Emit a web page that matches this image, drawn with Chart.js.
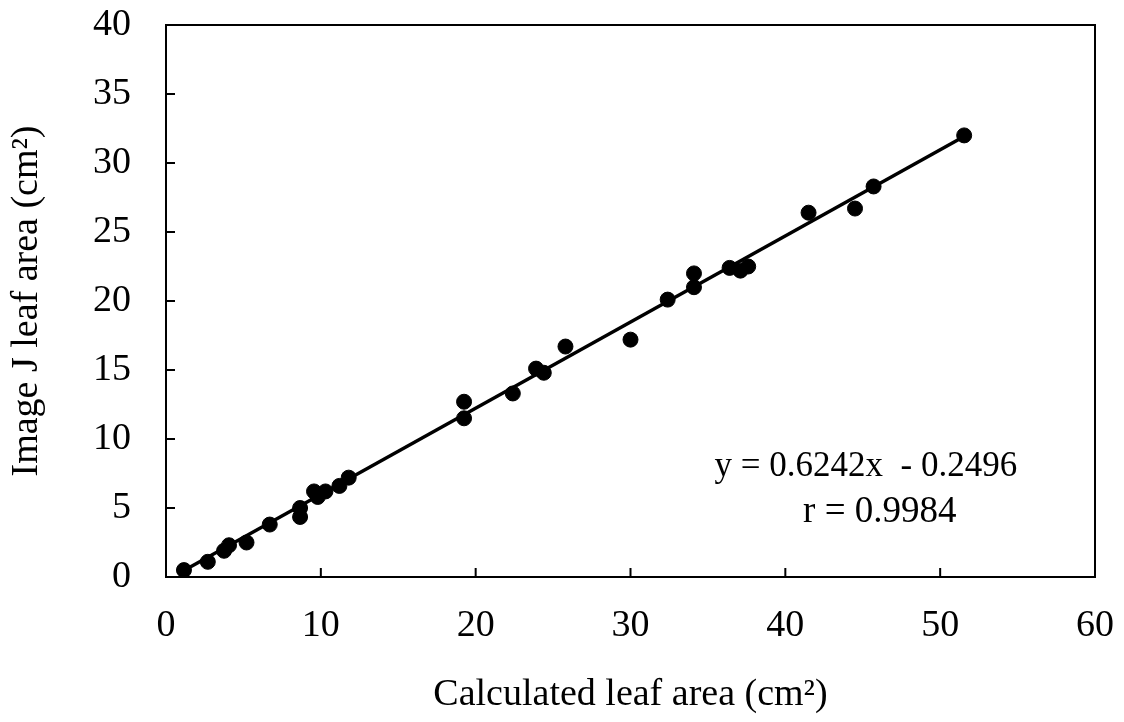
<!DOCTYPE html>
<html>
<head>
<meta charset="utf-8">
<script src="https://cdn.jsdelivr.net/npm/chart.js@4"></script>
<style>
  html, body { margin: 0; padding: 0; background: #fff; }
  #wrap { width: 1124px; height: 722px; }
</style>
</head>
<body>
<div id="wrap"><canvas id="chart" width="1124" height="722"></canvas></div>
<script>
// ── Data ──
const calcArea = [1.16, 2.7, 3.75, 4.07, 5.2, 6.7, 8.66, 8.66, 9.56, 9.8, 10.3, 11.2, 11.8,
  19.25, 19.25, 22.4, 23.9, 24.4, 25.8, 30.0, 32.4, 34.1, 34.1, 36.4, 37.1, 37.6,
  41.5, 44.5, 45.7, 51.55];
const imageJArea = [0.5, 1.1, 1.9, 2.3, 2.5, 3.8, 4.35, 5.0, 6.2, 5.8, 6.2, 6.6, 7.2,
  11.5, 12.7, 13.3, 15.1, 14.8, 16.7, 17.2, 20.1, 21.0, 22.0, 22.4, 22.2, 22.5,
  26.4, 26.7, 28.3, 32.0];
const fitX = [1.1, 51.6];
const slope = 0.6242, intercept = -0.2496;
const xTicks = [0, 10, 20, 30, 40, 50, 60];
const yTicks = [0, 5, 10, 15, 20, 25, 30, 35, 40];
const eqText = "y = 0.6242x  - 0.2496";
const rText = "r = 0.9984";

const FONT = "'Liberation Serif', 'Times New Roman', serif";

const points = calcArea.map((x, i) => ({ x, y: imageJArea[i] }));
const fitLine = fitX.map(x => ({ x, y: slope * x + intercept }));

// ── Frame + inward tick marks + equation text ──
const framePlugin = {
  id: "frame",
  afterDraw(chart) {
    const { ctx, chartArea: a, scales: { x, y } } = chart;
    ctx.save();
    ctx.strokeStyle = "#000";
    ctx.lineWidth = 2;
    ctx.strokeRect(a.left, a.top, a.right - a.left, a.bottom - a.top);
    ctx.beginPath();
    xTicks.forEach(v => {
      const px = x.getPixelForValue(v);
      ctx.moveTo(px, a.bottom); ctx.lineTo(px, a.bottom - 9);
    });
    yTicks.forEach(v => {
      const py = y.getPixelForValue(v);
      ctx.moveTo(a.left, py); ctx.lineTo(a.left + 9, py);
    });
    ctx.stroke();

    ctx.fillStyle = "#000";
    ctx.font = "35px " + FONT;
    ctx.textAlign = "center";
    ctx.textBaseline = "middle";
    ctx.fillText(eqText, x.getPixelForValue(45.2), y.getPixelForValue(8.0));
    ctx.font = "37px " + FONT;
    ctx.fillText(rText, x.getPixelForValue(46.1), y.getPixelForValue(4.7));
    ctx.restore();
  }
};

new Chart(document.getElementById("chart"), {
  type: "scatter",
  data: {
    datasets: [
      {
        label: "Leaves", data: points,
        backgroundColor: "#000", borderColor: "#000",
        pointRadius: 7.5, pointHoverRadius: 7.5
      },
      {
        label: "Fit", type: "line", data: fitLine,
        borderColor: "#000", borderWidth: 3.5, pointRadius: 0, fill: false
      }
    ]
  },
  options: {
    responsive: false, animation: false,
    layout: { padding: { top: 25, right: 29, left: 0, bottom: 0 } },
    plugins: { legend: { display: false }, tooltip: { enabled: false } },
    scales: {
      x: {
        type: "linear", min: 0, max: 60,
        afterFit: s => { s.height = 145; s.paddingLeft = 0; s.paddingRight = 0; },
        afterBuildTicks: s => { s.ticks = xTicks.map(v => ({ value: v })); },
        grid: { display: false },
        border: { display: false },
        ticks: { color: "#000", padding: 18, font: { family: FONT, size: 38 } },
        title: {
          display: true, text: "Calculated leaf area (cm²)", color: "#000",
          padding: { top: 18 }, font: { family: FONT, size: 38 }
        }
      },
      y: {
        type: "linear", min: 0, max: 40,
        afterFit: s => { s.width = 166; s.paddingTop = 0; s.paddingBottom = 0; },
        afterBuildTicks: s => { s.ticks = yTicks.map(v => ({ value: v })); },
        grid: { display: false },
        border: { display: false },
        ticks: { color: "#000", padding: 27, font: { family: FONT, size: 38 } },
        title: {
          display: true, text: "Image J leaf area (cm²)", color: "#000",
          padding: { bottom: 6 }, font: { family: FONT, size: 38 }
        }
      }
    }
  },
  plugins: [framePlugin]
});
</script>
</body>
</html>
